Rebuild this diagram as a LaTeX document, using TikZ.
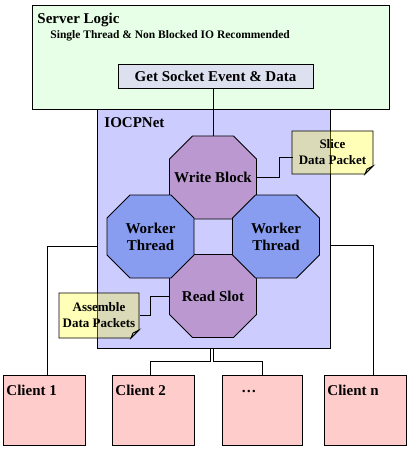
\documentclass[tikz,border=0pt]{standalone}
\usepackage{fontspec}
\setmainfont{Liberation Serif}
\usetikzlibrary{calc}
\definecolor{srvgreen}{RGB}{230,255,230}
\definecolor{sockbox}{RGB}{221,224,238}
\definecolor{iocpfill}{RGB}{204,204,255}
\definecolor{octpurple}{RGB}{187,153,208}
\definecolor{octblue}{RGB}{136,156,240}
\definecolor{clientpink}{RGB}{255,204,204}
\definecolor{notey}{RGB}{255,255,0}
\definecolor{notefold}{RGB}{225,225,160}
\newcommand\octshape[3]{%
  \filldraw[fill=#3] (#1-20.5,#2-41.5) -- (#1+20.5,#2-41.5) -- (#1+43.5,#2-18.5) -- (#1+43.5,#2+18.5)
   -- (#1+20.5,#2+41.5) -- (#1-20.5,#2+41.5) -- (#1-43.5,#2+18.5) -- (#1-43.5,#2-18.5) -- cycle;}
\newcommand\notepath[4]{%
  \filldraw[fill=notey, fill opacity=0.28] (#1,#2) -- (#3,#2) -- (#3,#4-8) -- (#3-8,#4) -- (#1,#4) -- cycle;
  \filldraw[fill=notefold] (#3,#4-8) -- (#3-6,#4-5) -- (#3-8,#4) -- cycle;}
\begin{document}
\begin{tikzpicture}[x=1pt,y=-1pt,line width=0.9pt,
  big/.style={font=\bfseries\fontsize{15}{17}\selectfont},
  small/.style={font=\bfseries\fontsize{11.5}{13}\selectfont},
  notetext/.style={font=\bfseries\fontsize{13}{16}\selectfont, align=center, inner sep=0pt},
  area/.style={draw, anchor=north west, inner sep=0pt},
  octlabel/.style={big, align=center, minimum width=87, minimum height=83, inner sep=0pt},
  clientbox/.style={draw, fill=clientpink, anchor=north west, minimum width=82, minimum height=70, inner sep=0pt},
  clientlabel/.style={big, anchor=west, inner sep=0pt}]
\useasboundingbox (0,0) rectangle (410,449);
\node[area, fill=srvgreen, minimum width=357, minimum height=104] (srv) at (32,5) {};
\node[area, fill=iocpfill, minimum width=233, minimum height=239] (iocp) at (97,109) {};
\node[big, anchor=west, inner sep=0pt] (srvlbl) at (37,20) {Server Logic};
\node[small, anchor=west, inner sep=0pt] (srvsub) at (50,35.5) {Single Thread \& Non Blocked IO Recommended};
\node[draw, fill=sockbox, big, minimum width=195, minimum height=24, inner sep=0pt] (gs) at (215.5,76) {Get Socket Event \& Data};
\node[big, anchor=west, inner sep=0pt] (iocplbl) at (104,123) {IOCPNet};
% octagons
\octshape{213}{177.5}{octpurple}
\octshape{213}{296}{octpurple}
\octshape{150.5}{236.5}{octblue}
\octshape{276}{236.5}{octblue}
\node[octlabel] (wb) at (213,177.5) {Write Block};
\node[octlabel] (rs) at (213,296) {Read Slot};
\node[octlabel] (wl) at (150.5,236.5) {Worker\\Thread};
\node[octlabel] (wr) at (276,236.5) {Worker\\Thread};
\draw (wb.north |- gs.south) -- (wb.north);
% notes
\notepath{292}{131}{373}{174}
\node[notetext] (sn) at (332.5,152.5) {Slice\\Data Packet};
\notepath{59}{293}{139}{338}
\node[notetext] (an) at (99,315.5) {Assemble\\Data Packets};
\draw ($(sn.west)+(-5.5,4.5)$) -- ++(-13,0) |- (wb.east);
\draw ($(an.east)+(4.5,0)$) -- ++(10.5,0) |- (rs.west);
% clients
\node[clientbox] (c1) at (3,375) {};
\node[clientbox] (c2) at (112,375) {};
\node[clientbox, minimum width=80] (cd) at (222,375) {};
\node[clientbox] (cn) at (324,375) {};
\node[clientlabel] (c1l) at (6,390) {Client 1};
\node[clientlabel] (c2l) at (115,390) {Client 2};
\node[clientlabel] (cdl) at (241,391) {…};
\node[clientlabel] (cnl) at (327,390) {Client n};
\coordinate (il) at (97,246);
\coordinate (ir) at (330,245);
\coordinate (b1) at (210,348);
\coordinate (b2) at (213,348);
\draw ($(c1.north)+(3,0)$) |- (il);
\draw ($(cn.north)+(8,0)$) |- (ir);
\draw (b1) -- ++(0,13) -| ($(c2.north)+(-3,0)$);
\draw (b2) -- ++(0,13) -| (cd.north);
\end{tikzpicture}
\end{document}
